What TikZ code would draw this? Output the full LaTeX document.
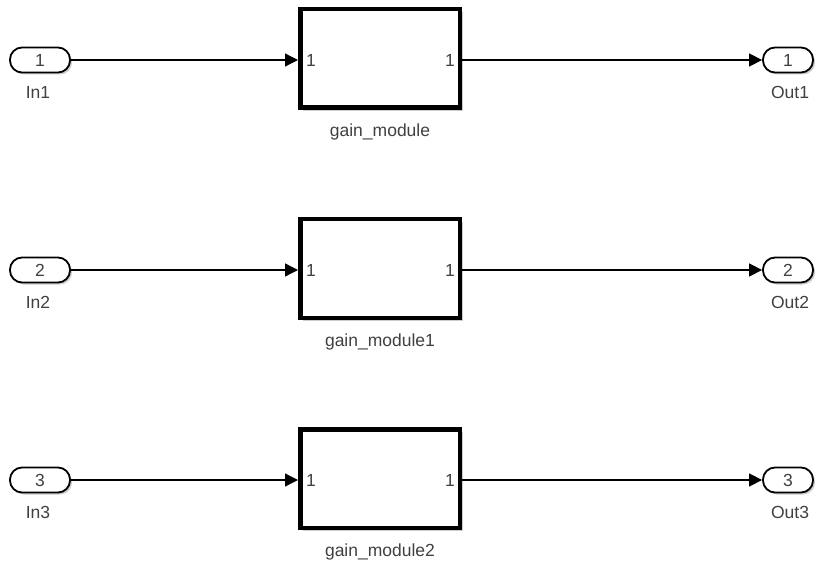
\documentclass[tikz,border=0pt]{standalone}
\usepackage{fontspec}
\setmainfont{Liberation Sans}
\usetikzlibrary{arrows.meta,shadows,calc}
\begin{document}
\begin{tikzpicture}[x=1pt,y=-1pt,
  font=\fontsize{17.5}{20}\selectfont,
  blk/.style={draw=black,line width=4.5pt,fill=white,minimum width=159.5pt,minimum height=98.5pt,inner sep=0pt,
    drop shadow={shadow xshift=3pt,shadow yshift=-3pt,opacity=0.2,fill=black}},
  port/.style={draw=black,line width=1.8pt,fill=white,rounded corners=12pt,minimum height=25pt,inner sep=0pt,text=black!75,
    drop shadow={shadow xshift=2pt,shadow yshift=-2pt,opacity=0.2,fill=black}},
  wire/.style={line width=1.3pt,-{Triangle[length=13pt,width=13pt]}},
  lbl/.style={text=black!75,inner sep=0pt}]
\useasboundingbox (0,0) rectangle (816,561);
\foreach \i/\y/\suf in {1/60/,2/270/1,3/480/2}{
  \node[blk] (g\i) at (380,\y-1.5) {};
  \node[lbl] (gl\i) at (380,\y+72) {gain\_module\suf};
  \node[lbl] (pi\i) at (311,\y) {1};
  \node[lbl] (po\i) at (450,\y) {1};
  \node[port,minimum width=60pt] (in\i) at (40,\y) {\i};
  \node[lbl] (inl\i) at (38,\y+32) {In\i};
  \node[port,minimum width=50pt] (out\i) at (788,\y) {\i};
  \node[lbl] (outl\i) at (790,\y+32) {Out\i};
  \draw[wire] (in\i.east) -- (in\i.east -| g\i.west);
  \draw[wire] (out\i.west -| g\i.east) -- (out\i.west);
}
\end{tikzpicture}
\end{document}
